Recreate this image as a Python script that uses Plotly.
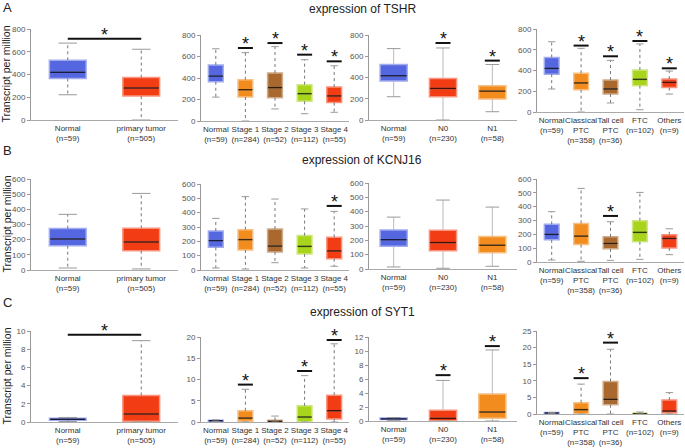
import plotly.graph_objects as go

W, H = 685, 448

# ---------------- data ----------------
GENES = ["TSHR", "KCNJ16", "SYT1"]

CATS_TUMOR = ["Normal<br>(n=59)", "primary tumor<br>(n=505)"]
CATS_STAGE = ["Normal<br>(n=59)", "Stage 1<br>(n=284)", "Stage 2<br>(n=52)",
              "Stage 3<br>(n=112)", "Stage 4<br>(n=55)"]
CATS_NODAL = ["Normal<br>(n=59)", "N0<br>(n=230)", "N1<br>(n=58)"]
CATS_HIST = ["Normal<br>(n=59)", "Classical<br>PTC<br>(n=358)", "Tall cell<br>PTC<br>(n=36)",
             "FTC<br>(n=102)", "Others<br>(n=9)"]

# each group: (lower whisker, q1, median, q3, upper whisker)
TSHR_TUMOR = [(222, 365, 420, 525, 676), (0, 210, 282, 373, 622)]
TSHR_STAGE = [(222, 365, 418, 522, 672), (0, 223, 291, 384, 636), (112, 217, 310, 446, 692),
              (68, 183, 254, 338, 570), (81, 171, 233, 316, 514)]
TSHR_NODAL = [(219, 366, 416, 522, 672), (0, 219, 297, 391, 678), (78, 197, 272, 322, 522)]
TSHR_HIST = [(222, 365, 420, 525, 677), (0, 215, 280, 373, 614), (87, 174, 222, 308, 498),
             (22, 254, 315, 405, 656), (173, 235, 286, 318, 395)]

KCNJ16_TUMOR = [(13, 160, 204, 273, 367), (7, 127, 185, 275, 505)]
KCNJ16_STAGE = [(14, 158, 205, 272, 360), (7, 140, 212, 281, 512), (51, 126, 167, 286, 495),
                (14, 112, 165, 240, 426), (26, 79, 133, 228, 409)]
KCNJ16_NODAL = [(14, 158, 204, 272, 362), (5, 128, 184, 271, 481), (19, 114, 166, 226, 432)]
KCNJ16_HIST = [(14, 160, 200, 272, 364), (5, 126, 187, 279, 532), (12, 95, 134, 182, 291),
               (19, 146, 214, 299, 503), (53, 102, 170, 197, 240)]

SYT1_TUMOR = [(0.05, 0.2, 0.3, 0.42, 0.5), (0, 0.07, 0.88, 2.92, 8.94)]
SYT1_STAGE = [(0.05, 0.2, 0.3, 0.42, 0.5), (0, 0.15, 0.93, 2.65, 7.7), (0, 0.08, 0.15, 0.4, 1.4),
              (0, 0.08, 1.17, 3.8, 10.9), (0, 0.7, 2.65, 6.3, 18.4)]
SYT1_NODAL = [(0.05, 0.2, 0.3, 0.42, 0.5), (0, 0.05, 0.38, 1.52, 5.8), (0, 0.38, 1.28, 3.85, 10.15)]
SYT1_HIST = [(0.05, 0.2, 0.3, 0.42, 0.5), (0, 0.1, 1.3, 3.4, 9.0), (0, 2.8, 4.4, 9.8, 19.5),
             (0, 0.05, 0.1, 0.25, 0.6), (0, 0.3, 0.9, 4.2, 6.45)]

# significance bar heights (None = not significant)
TSHR_SIG_TUMOR = [715]
TSHR_SIG_STAGE = [None, 679, 725, 617, 555]
TSHR_SIG_NODAL = [None, 725, 559]
TSHR_SIG_HIST = [None, 640, 537, 684, 421]
KCNJ16_SIG_TUMOR = [None]
KCNJ16_SIG_STAGE = [None, None, None, None, 447]
KCNJ16_SIG_NODAL = [None, None, None]
KCNJ16_SIG_HIST = [None, None, 333, None, None]
SYT1_SIG_TUMOR = [9.6]
SYT1_SIG_STAGE = [None, 8.8, None, 12.0, 19.3]
SYT1_SIG_NODAL = [None, 6.55, 10.7]
SYT1_SIG_HIST = [None, 10.8, 21.5, None, None]

Y_MAX = [[800, 800, 800, 800], [600, 600, 600, 600], [10, 20, 12, 25]]
Y_DTICK = [[200, 200, 200, 200], [100, 100, 100, 100], [2, 5, 2, 5]]

# ---------------- style ----------------
BLUE, RED, ORANGE, BROWN, LIME = "#5466E0", "#F23C14", "#F28C1E", "#A8682E", "#A8D41C"
PANEL_COLORS = [[BLUE, RED], [BLUE, ORANGE, BROWN, LIME, RED], [BLUE, RED, ORANGE],
                [BLUE, ORANGE, BROWN, LIME, RED]]
PANEL_CATS = [CATS_TUMOR, CATS_STAGE, CATS_NODAL, CATS_HIST]
ROW_DATA = [
    [TSHR_TUMOR, TSHR_STAGE, TSHR_NODAL, TSHR_HIST],
    [KCNJ16_TUMOR, KCNJ16_STAGE, KCNJ16_NODAL, KCNJ16_HIST],
    [SYT1_TUMOR, SYT1_STAGE, SYT1_NODAL, SYT1_HIST],
]
ROW_SIG = [
    [TSHR_SIG_TUMOR, TSHR_SIG_STAGE, TSHR_SIG_NODAL, TSHR_SIG_HIST],
    [KCNJ16_SIG_TUMOR, KCNJ16_SIG_STAGE, KCNJ16_SIG_NODAL, KCNJ16_SIG_HIST],
    [SYT1_SIG_TUMOR, SYT1_SIG_STAGE, SYT1_SIG_NODAL, SYT1_SIG_HIST],
]

PANEL_X = [(31, 178), (201, 349), (369, 517), (537, 684)]
ROW_Y = [[(29, 120), (35, 121), (35, 120), (29, 112)],
         [(179, 270), (184, 270), (183, 269), (179, 262)],
         [(331, 422), (337, 422), (337, 421), (331, 414)]]
BOX_W = [0.5, 0.5, 0.55, 0.5]
WHISKER_DASH = ["dot", "dot", "solid", "dot"]
WHISKER_COL = ["#777777", "#777777", "#BBBBBB", "#777777"]
TITLE_Y = [9, 160, 312]
LETTER_Y = [7, 150, 302]
FONT = "Liberation Sans, Arial, sans-serif"


def blend(hex_col, other, t):
    h = hex_col.lstrip("#")
    o = other.lstrip("#")
    c = [int(h[i:i + 2], 16) for i in (0, 2, 4)]
    d = [int(o[i:i + 2], 16) for i in (0, 2, 4)]
    m = [round(a * (1 - t) + b * t) for a, b in zip(c, d)]
    return "#%02X%02X%02X" % tuple(m)


fig = go.Figure()
annotations = []
layout = {}

for r in range(3):
    for c in range(4):
        k = r * 4 + c + 1
        xa = "x" if k == 1 else f"x{k}"
        ya = "y" if k == 1 else f"y{k}"
        data = ROW_DATA[r][c]
        sig = ROW_SIG[r][c]
        cats = PANEL_CATS[c]
        cols = PANEL_COLORS[c]
        n = len(cats)
        bw = BOX_W[c]
        x0, x1 = PANEL_X[c]
        yt, yb = ROW_Y[r][c]
        unit_px = (x1 - x0) / n

        # boxes + medians
        for i, (lo, q1, md, q3, hi) in enumerate(data):
            col = cols[i]
            fig.add_trace(go.Box(
                x=[i], q1=[q1], median=[md], q3=[q3], lowerfence=[q1], upperfence=[q3],
                width=bw, fillcolor=col, line=dict(color=blend(col, "#FFFFFF", 0.45), width=1.5),
                xaxis=xa, yaxis=ya, showlegend=False, hoverinfo="skip", boxpoints=False))
            fig.add_trace(go.Scatter(
                x=[i - bw / 2 + 0.01, i + bw / 2 - 0.01], y=[md, md], mode="lines",
                line=dict(color=blend(col, "#000000", 0.72), width=1.5),
                xaxis=xa, yaxis=ya, showlegend=False, hoverinfo="skip"))

        # whiskers
        wx, wy, cx, cy = [], [], [], []
        cw = bw / 4
        for i, (lo, q1, md, q3, hi) in enumerate(data):
            wx += [i, i, None, i, i, None]
            wy += [q3, hi, None, q1, lo, None]
            cx += [i - cw, i + cw, None, i - cw, i + cw, None]
            cy += [hi, hi, None, lo, lo, None]
        fig.add_trace(go.Scatter(x=wx, y=wy, mode="lines",
                                 line=dict(color=WHISKER_COL[c], width=1, dash=WHISKER_DASH[c]),
                                 xaxis=xa, yaxis=ya, showlegend=False, hoverinfo="skip"))
        fig.add_trace(go.Scatter(x=cx, y=cy, mode="lines",
                                 line=dict(color="#999999", width=1),
                                 xaxis=xa, yaxis=ya, showlegend=False, hoverinfo="skip"))

        # significance bars + stars
        sx, sy = [], []
        if c == 0:
            if sig[0] is not None:
                sx += [0, 1, None]
                sy += [sig[0], sig[0], None]
                annotations.append(dict(x=0.5, y=sig[0], xref=xa, yref=ya, text="*",
                                        showarrow=False, xanchor="center", yanchor="middle",
                                        yshift=4, font=dict(size=18, color="#111", family=FONT)))
        else:
            hw = 7.5 / unit_px
            for i, s in enumerate(sig):
                if s is None:
                    continue
                sx += [i - hw, i + hw, None]
                sy += [s, s, None]
                annotations.append(dict(x=i, y=s, xref=xa, yref=ya, text="*",
                                        showarrow=False, xanchor="center", yanchor="middle",
                                        yshift=4, font=dict(size=18, color="#111", family=FONT)))
        if sx:
            fig.add_trace(go.Scatter(x=sx, y=sy, mode="lines",
                                     line=dict(color="#111111", width=2),
                                     xaxis=xa, yaxis=ya, showlegend=False, hoverinfo="skip"))

        xkey = "xaxis" if k == 1 else f"xaxis{k}"
        ykey = "yaxis" if k == 1 else f"yaxis{k}"
        layout[xkey] = dict(
            domain=[x0 / W, x1 / W], anchor=ya, range=[-0.5, n - 0.5], automargin=False,
            tickvals=list(range(n)), ticktext=cats, tickangle=0, showgrid=False, zeroline=False,
            showline=True, linecolor="#AAAAAA", linewidth=1, ticks="",
            tickfont=dict(size=8, color="#333333", family=FONT), fixedrange=True)
        layout[ykey] = dict(
            domain=[1 - yb / H, 1 - yt / H], anchor=xa, range=[0, Y_MAX[r][c]], automargin=False,
            dtick=Y_DTICK[r][c], showgrid=False, zeroline=False, showline=True,
            linecolor="#999999", linewidth=1, ticks="outside", ticklen=3, tickcolor="#999999",
            tickfont=dict(size=8, color="#555555", family=FONT), fixedrange=True)

    # row title, letter, y title
    annotations.append(dict(x=362 / W, y=1 - TITLE_Y[r] / H, xref="paper", yref="paper",
                            text=f"expression of {GENES[r]}", showarrow=False,
                            xanchor="center", yanchor="middle",
                            font=dict(size=12, color="#222222", family=FONT)))
    annotations.append(dict(x=7 / W, y=1 - LETTER_Y[r] / H, xref="paper", yref="paper",
                            text=["A", "B", "C"][r], showarrow=False,
                            xanchor="center", yanchor="middle",
                            font=dict(size=13, color="#222222", family=FONT)))
    yt, yb = ROW_Y[r][0]
    annotations.append(dict(x=6 / W, y=1 - (yt + yb) / 2 / H, xref="paper", yref="paper",
                            text="Transcript per million", showarrow=False, textangle=-90,
                            xanchor="center", yanchor="middle",
                            font=dict(size=10.5, color="#222222", family=FONT)))

fig.update_layout(
    width=W, height=H, margin=dict(l=0, r=0, t=0, b=0, autoexpand=False),
    paper_bgcolor="white", plot_bgcolor="white",
    annotations=annotations, showlegend=False, **layout)

fig.write_html("out.html", config={"displayModeBar": False},
               post_script="document.body.style.margin='0';")
